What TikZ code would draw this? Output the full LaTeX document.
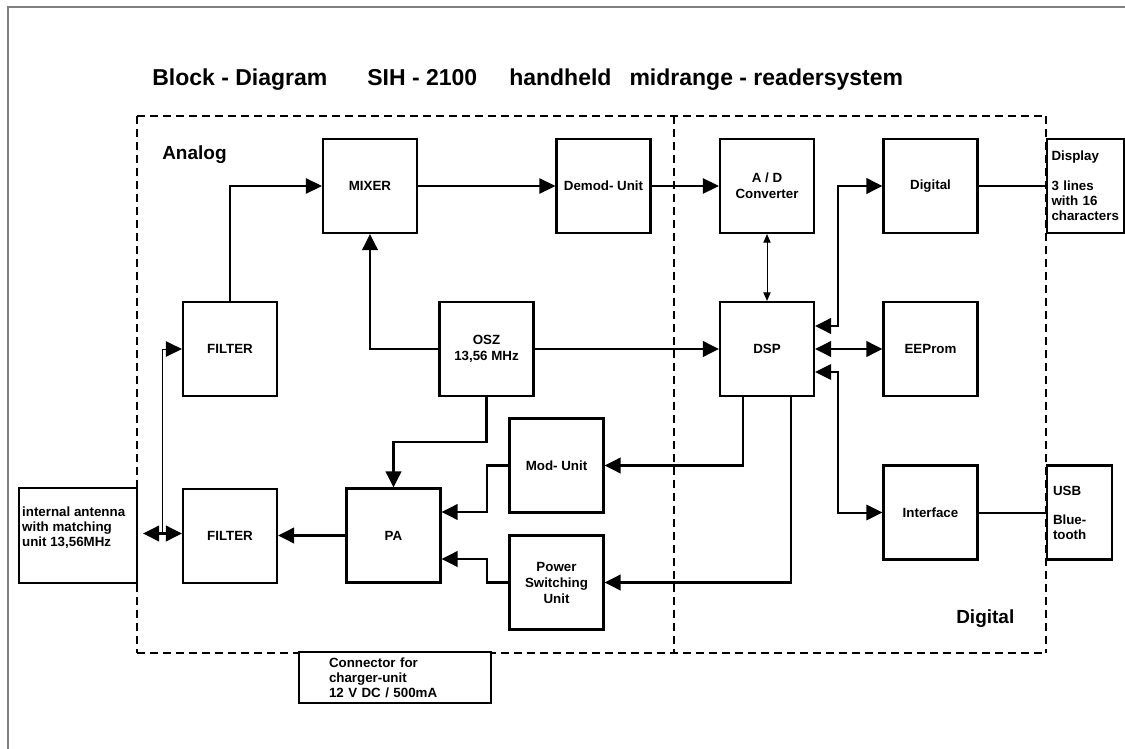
\documentclass[tikz,border=0pt]{standalone}
\usepackage{fontspec}
\setmainfont{Liberation Sans}
\usetikzlibrary{arrows.meta,calc}
\begin{document}
\begin{tikzpicture}[x=0.75pt,y=-0.75pt,
  >={Triangle[length=12pt,width=11.5pt]},
  box/.style={draw=black, line width=1.6pt, fill=white, minimum width=70.5pt, minimum height=70.5pt,
    inner sep=0pt, font=\fontsize{10}{12}\selectfont\bfseries, align=center},
  lbl/.style={inner sep=0pt, font=\fontsize{10}{11}\selectfont\bfseries, align=left},
  sect/.style={anchor=base west, inner sep=0pt, font=\fontsize{14.25}{16}\selectfont\bfseries},
  frame/.style={dash pattern=on 6pt off 3.75pt, black},
  c0/.style={line width=0.75pt},
  c1/.style={line width=1pt},
  c2/.style={line width=1.5pt},
  c3/.style={line width=2.1pt},
  smalltips/.style={{Triangle[length=6.5pt,width=5.5pt]}-{Triangle[length=6.5pt,width=5.5pt]}}
]
\useasboundingbox (0,0) rectangle (1125,749);
\fill[white] (0,0) rectangle (1125,749);
% outer frame
\draw[gray, line width=0.8pt] (8,749) -- (8,7) -- (1125,7);

% dashed regions
\draw[frame, line width=1pt] (137,116) -- (1046,116);
\draw[frame, line width=1.5pt] (137,116) -- (137,653);
\draw[frame, line width=1.1pt] (137,653) -- (1046,653);
\draw[frame, line width=0.8pt] (1046,116) -- (1046,653);
\draw[frame, line width=1.5pt] (674,116) -- (674,653);

% title and section labels
\node[anchor=base west, inner sep=0pt, font=\fontsize{17.25}{20}\selectfont\bfseries] (title) at (152,86)
  {Block - Diagram\hspace{30pt}SIH - 2100\hspace{24pt}handheld\hspace{13.5pt}midrange - readersystem};
\node[sect] (analog) at (162,160) {Analog};
\node[sect] (digitallbl) at (956,623) {Digital};

% boxes
\node[box] (mixer) at (370,186) {MIXER};
\node[box] (demod) at (603.5,186) {Demod- Unit};
\node[box] (ad) at (767,186) {A / D\\Converter};
\node[box] (digital) at (930.5,186) {Digital};
\node[box, minimum width=57.75pt, text width=51pt, inner xsep=3.4pt, align=left,
  font=\fontsize{10}{11.25}\selectfont\bfseries] (display) at (1085.5,186)
  {Display\\[11.25pt]3 lines\\with 16\\characters};

\node[box] (f1) at (230,349) {FILTER};
\node[box] (osz) at (486.5,349) {OSZ\\13,56 MHz};
\node[box] (dsp) at (767,349) {DSP};
\node[box] (eeprom) at (930.5,349) {EEProm};

\node[box, minimum width=88.5pt, minimum height=71.25pt] (ant) at (78,535.5) {};
\node[lbl, anchor=north west] (anttext) at ($(ant.north west)+(4,20)$)
  {internal antenna\\with matching\\unit 13,56MHz};
\node[box] (f2) at (230,536) {FILTER};
\node[box] (pa) at (393.5,535.5) {PA};
\node[box] (mod) at (556.5,465.5) {Mod- Unit};
\node[box] (power) at (556.5,582.5) {Power\\Switching\\Unit};
\node[box] (iface) at (930.5,512.5) {Interface};
\node[box, minimum width=48.75pt, text width=39.75pt, inner xsep=4.5pt, align=left,
  font=\fontsize{10}{11}\selectfont\bfseries] (usb) at (1079.5,512.5)
  {USB\\[11pt]Blue-\\tooth};
\node[box, minimum height=38.25pt, text width=99pt, inner xsep=22.5pt, align=left,
  font=\fontsize{10}{11.25}\selectfont\bfseries] (conn) at (395,677.5)
  {Connector for\\charger-unit\\12 V DC / 500mA};

% connectors
\draw[c1,->] (f1.north) |- (mixer.west);
\draw[c1,->] (mixer.east) -- (demod.west);
\draw[c1,->] (demod.east) -- (ad.west);
\draw[c0,smalltips] (ad.south) -- (dsp.north);
\draw[c3,->] (osz.west) -| (mixer.south);
\draw[c3,->] (osz.east) -- (dsp.west);
\coordinate (ko) at (440,442);
\draw[c3,->] (osz.south) |- (ko) -| (pa.north);
\coordinate (km) at (487,512);
\draw[c3,->] (mod.west) -| (km) -- (km -| pa.east);
\coordinate (kp) at (487,559);
\draw[c3,->] (power.west) -| (kp) -- (kp -| pa.east);
\draw[c3,->] (pa.west) -- (pa.west -| f2.east);
\draw[c3,<->] ($(ant.east)+(5,-2)$) -- ($(ant.east -| f2.west)+(0,-2)$);
\coordinate (kj) at (162,533.5);
\draw[c0,->] (kj) |- (f1.west);
\draw[c3,->] ($(dsp.south)+(-24,0)$) |- (mod.east);
\draw[c3,->] ($(dsp.south)+(24,0)$) |- (power.east);
\draw[c3,<->] ($(dsp.east)+(0,-23)$) -- ++(23,0) |- (digital.west);
\draw[c3,<->] (dsp.east) -- (eeprom.west);
\draw[c2,<->] ($(dsp.east)+(0,23)$) -- ++(23,0) |- (iface.west);
\draw[c2] (digital.east) -- (display.west |- digital.east);
\draw[c2] (iface.east) -- (usb.west);
\end{tikzpicture}
\end{document}
